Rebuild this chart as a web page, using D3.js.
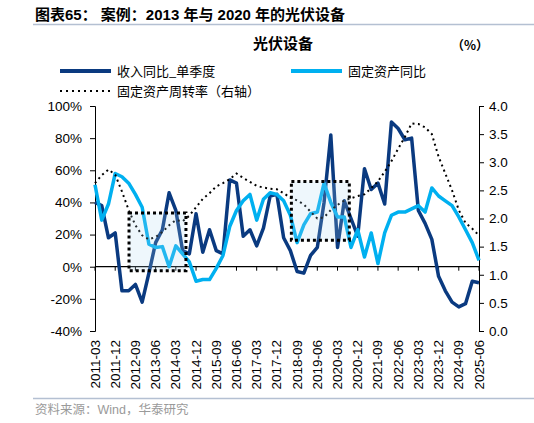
<!DOCTYPE html>
<html>
<head>
<meta charset="utf-8">
<script src="https://cdn.jsdelivr.net/npm/d3@7"></script>
<style>
body { margin: 0; background: #fff; }
svg { display: block; }
</style>
</head>
<body>
<svg id="chart" width="534" height="423"></svg>
<script>
var quarters = [
  '2011-03', '2011-06', '2011-09', '2011-12', '2012-03', '2012-06', '2012-09', '2012-12',
  '2013-03', '2013-06', '2013-09', '2013-12', '2014-03', '2014-06', '2014-09', '2014-12',
  '2015-03', '2015-06', '2015-09', '2015-12', '2016-03', '2016-06', '2016-09', '2016-12',
  '2017-03', '2017-06', '2017-09', '2017-12', '2018-03', '2018-06', '2018-09', '2018-12',
  '2019-03', '2019-06', '2019-09', '2019-12', '2020-03', '2020-06', '2020-09', '2020-12',
  '2021-03', '2021-06', '2021-09', '2021-12', '2022-03', '2022-06', '2022-09', '2022-12',
  '2023-03', '2023-06', '2023-09', '2023-12', '2024-03', '2024-06', '2024-09', '2024-12',
  '2025-03', '2025-06'
];
// 收入同比_单季度 (%)
var revenueYoy = [
  40, 38, 18, 21, -15, -15, -11, -22,
  -4, 15, 23, 46, 35, 10, 8, 33,
  9, 23, 10, 8, 54, 52, 19, 23,
  13, 24, 44, 45, 18, 10, -3, -4,
  7, 12, 40, 82, 12, 41, 30, 19,
  61, 48, 52, 39, 90, 86, 79, 80,
  35, 27, 17, -6, -15, -22, -25, -23,
  -9, -10
];
// 固定资产同比 (%)
var fixedAssetYoy = [
  51, 29, 39, 58, 56, 52, 45, 37,
  14, 12, 12.5, 0, 13, 8, 3, -9,
  -8, -8, -1, 7, 25, 35, 41, 45,
  29, 42, 46, 45, 41, 32, 15, 26,
  33, 34, 52, 40, 31, 31, 12, 23,
  6, 21, 2, 21, 32, 34, 34, 36,
  38, 34, 49, 44, 41, 38, 31, 23,
  15, 4
];
// 固定资产周转率 (右轴)
var assetTurnover = [
  2.63, 2.77, 2.87, 2.78, 2.48, 2.15, 1.88, 1.7,
  1.63, 1.67, 1.76, 1.88, 1.97, 1.95, 2.05, 2.2,
  2.35, 2.45, 2.57, 2.63, 2.7, 2.8, 2.72, 2.65,
  2.58, 2.55, 2.53, 2.52, 2.45, 2.37, 2.32, 2.25,
  2.12, 2.0, 2.02, 2.15, 2.24, 2.32, 2.36, 2.4,
  2.43, 2.54, 2.66, 2.83, 3.02, 3.24, 3.45, 3.69,
  3.68, 3.62, 3.5, 3.1, 2.8, 2.5, 2.15, 1.92,
  1.82, 1.7
];
var leftTicks = [100, 80, 60, 40, 20, 0, -20, -40];
var rightTicks = [4.0, 3.5, 3.0, 2.5, 2.0, 1.5, 1.0, 0.5, 0.0];
// 2013 / 2020 case windows (quarter index, left-axis %)
var highlightBoxes = [
  { from: 5.05, to: 13.5, top: 33.5, bottom: -2.5 },
  { from: 29.15, to: 37.75, top: 53, bottom: 16.5 }
];

var cjk = '"Noto Sans CJK SC", sans-serif';
var latin = '"Liberation Sans", "Noto Sans CJK SC", Arial, sans-serif';
var darkBlue = '#0a3a80', lightBlue = '#00b0f0';

var svg = d3.select('#chart');

var x = d3.scaleLinear().domain([0, quarters.length - 1]).range([95, 479]);
var yL = d3.scaleLinear().domain([-40, 100]).range([331, 106]);
var yR = d3.scaleLinear().domain([0, 4]).range([331, 106]);

// header
svg.append('text').attr('x', 35).attr('y', 19.5)
  .attr('font-family', latin).attr('font-size', 15).attr('font-weight', 'bold').attr('fill', '#000')
  .text('图表65：  案例：2013 年与 2020 年的光伏设备');
svg.append('line').attr('x1', 33).attr('x2', 534).attr('y1', 24.5).attr('y2', 24.5)
  .attr('stroke', '#b4c0d2').attr('stroke-width', 1.5);

svg.append('text').attr('x', 283).attr('y', 49).attr('text-anchor', 'middle')
  .attr('font-family', cjk).attr('font-size', 15).attr('font-weight', 'bold')
  .text('光伏设备');
svg.append('text').attr('x', 470).attr('y', 50).attr('text-anchor', 'middle')
  .attr('font-family', cjk).attr('font-size', 12.5).attr('font-weight', 'bold')
  .text('（%）');

// legend
var legend = [
  { label: '收入同比_单季度', color: darkBlue, dash: null, x: 60, y: 71 },
  { label: '固定资产同比', color: lightBlue, dash: null, x: 291, y: 71 },
  { label: '固定资产周转率（右轴）', color: '#000', dash: '2,4', x: 60, y: 91 }
];
legend.forEach(function(d){
  svg.append('line').attr('x1', d.x).attr('x2', d.x + 51).attr('y1', d.y).attr('y2', d.y)
    .attr('stroke', d.color).attr('stroke-width', d.dash ? 2 : 4)
    .attr('stroke-dasharray', d.dash);
  svg.append('text').attr('x', d.x + 57).attr('y', d.y + 4.5)
    .attr('font-family', cjk).attr('font-size', 13).attr('fill', '#000')
    .text(d.label);
});

// axes
var axL = svg.append('g').attr('transform', 'translate(95,0)')
  .call(d3.axisLeft(yL).tickValues(leftTicks).tickSize(5).tickPadding(8)
    .tickFormat(function(d){ return d + '%'; }));
var axR = svg.append('g').attr('transform', 'translate(479,0)')
  .call(d3.axisRight(yR).tickValues(rightTicks).tickSize(5).tickPadding(5)
    .tickFormat(d3.format('.1f')));
[axL, axR].forEach(function(a){
  a.selectAll('text').attr('font-family', latin).attr('font-size', 13.5).attr('fill', '#000');
  a.selectAll('line,path').attr('stroke', '#000');
});

// zero line with quarter ticks
svg.append('line').attr('x1', x(0)).attr('x2', x(quarters.length - 1))
  .attr('y1', yL(0)).attr('y2', yL(0)).attr('stroke', '#000').attr('stroke-width', 1.2);
var tickIdx = d3.range(0, quarters.length, 3);
svg.append('g').selectAll('line').data(tickIdx).enter().append('line')
  .attr('x1', function(d){ return x(d); }).attr('x2', function(d){ return x(d); })
  .attr('y1', yL(0)).attr('y2', yL(0) + 4).attr('stroke', '#000');
svg.append('g').selectAll('text').data(tickIdx).enter().append('text')
  .attr('transform', function(d){ return 'translate(' + x(d) + ',340) rotate(-90)'; })
  .attr('text-anchor', 'end').attr('dominant-baseline', 'central')
  .attr('font-family', latin).attr('font-size', 13.5).attr('fill', '#000')
  .text(function(d){ return quarters[d]; });

// series
var lineL = d3.line().x(function(d, i){ return x(i); }).y(function(d){ return yL(d); });
var lineR = d3.line().x(function(d, i){ return x(i); }).y(function(d){ return yR(d); });

svg.append('path').datum(revenueYoy).attr('d', lineL)
  .attr('fill', 'none').attr('stroke', darkBlue).attr('stroke-width', 3.5).attr('stroke-linejoin', 'round');
svg.append('path').datum(fixedAssetYoy).attr('d', lineL)
  .attr('fill', 'none').attr('stroke', lightBlue).attr('stroke-width', 3.5).attr('stroke-linejoin', 'round');
svg.append('path').datum(assetTurnover).attr('d', lineR)
  .attr('fill', 'none').attr('stroke', '#000').attr('stroke-width', 2).attr('stroke-dasharray', '2,3.5');

// highlight windows
svg.append('g').selectAll('rect').data(highlightBoxes).enter().append('rect')
  .attr('x', function(d){ return x(d.from); })
  .attr('y', function(d){ return yL(d.top); })
  .attr('width', function(d){ return x(d.to) - x(d.from); })
  .attr('height', function(d){ return yL(d.bottom) - yL(d.top); })
  .attr('fill', '#a8d8f2').attr('fill-opacity', 0.2)
  .attr('stroke', '#000').attr('stroke-width', 3).attr('stroke-dasharray', '3,3');

// footer
svg.append('line').attr('x1', 33).attr('x2', 534).attr('y1', 398.5).attr('y2', 398.5)
  .attr('stroke', '#b4c0d2').attr('stroke-width', 1.5);
svg.append('text').attr('x', 35).attr('y', 414)
  .attr('font-family', latin).attr('font-size', 12.5).attr('fill', '#9a9a9a')
  .text('资料来源：Wind，华泰研究');
</script>
</body>
</html>
